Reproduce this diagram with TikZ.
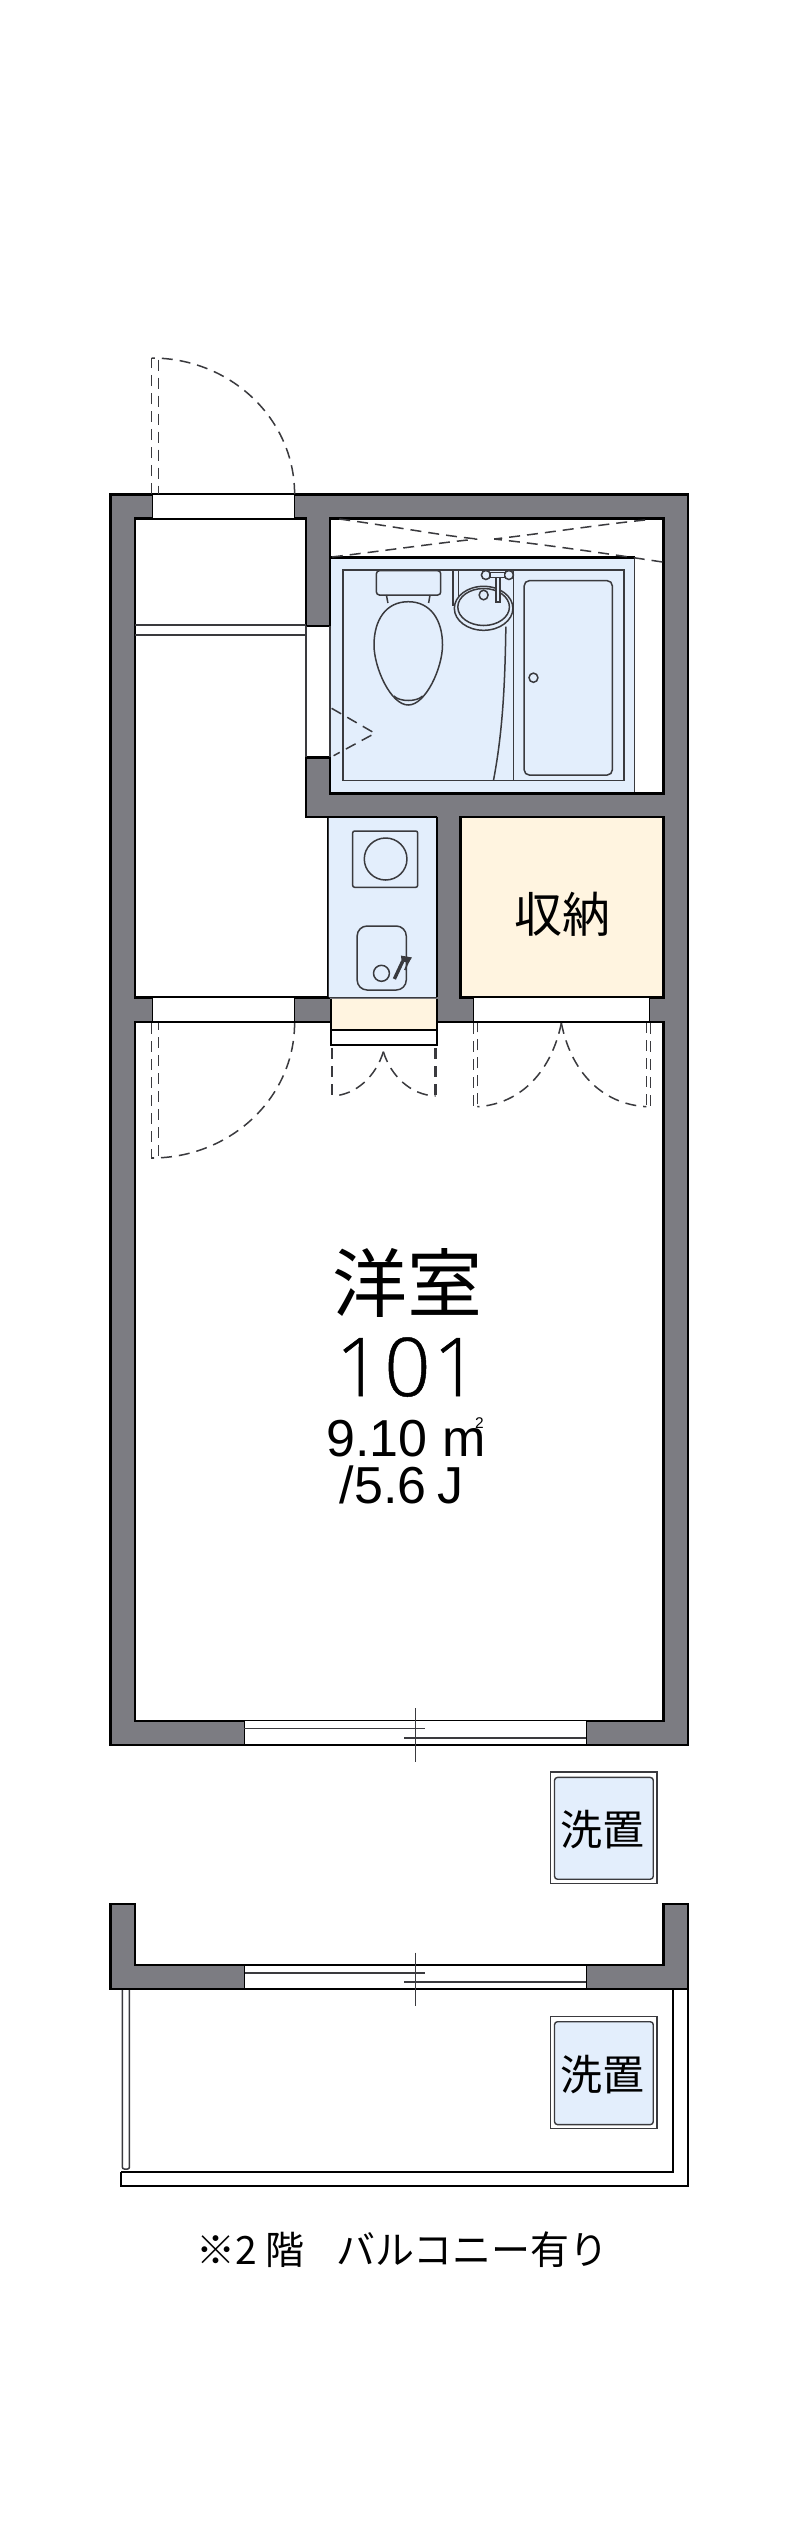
\documentclass[tikz,border=0pt]{standalone}
\usepackage{fontspec}
\setmainfont{Noto Sans CJK JP}
\newfontfamily\numfont[FakeBold=0.6,LetterSpace=3]{Open Sans Light}
\newfontfamily\smallfont{Liberation Sans}
\definecolor{wallc}{HTML}{7C7C82}
\definecolor{bluef}{HTML}{E3EEFC}
\definecolor{creamf}{HTML}{FFF4E0}
\definecolor{linec}{HTML}{3A3A3E}
\tikzset{
  wallline/.style={draw=black,line width=2.4pt,line join=miter},
  thinline/.style={draw=linec,line width=1.2pt},
  fixture/.style={draw=linec,line width=1.5pt},
  swing/.style={draw=linec,line width=1.5pt,dash pattern=on 11pt off 7pt},
  room/.style={wallline,fill=white},
  wash/.style={draw=linec,line width=1.4pt,fill=white},
  washin/.style={draw=linec,line width=1.4pt,fill=bluef,rounded corners=3pt},
  lab/.style={inner sep=0pt,text=black},
}
\begin{document}
\begin{tikzpicture}[x=1pt,y=-1pt]
\useasboundingbox (0,0) rectangle (800,2533);
\fill[white] (0,0) rectangle (800,2533);

\begin{scope}[x=0.9928pt,y=-1pt,xshift=0.72pt]
% main wall block
\filldraw[wallline,fill=wallc] (110.4,494.3) rectangle (692,1744.8);

% entry / corridor
\path[room] (135.5,518.3) -- (307.5,518.3) -- (307.5,625.7) -- (331.4,625.7) -- (331.4,757.3) -- (307.5,757.3) -- (307.5,816.7) -- (330.2,816.7) -- (330.2,997.3) -- (135.5,997.3) -- cycle;
\fill[white] (308.8,627) rectangle (333,756);
\draw[thinline] (307.5,625.7) -- (307.5,757.3);
\draw[thinline] (135.5,625) -- (307.5,625);
\draw[thinline] (135.5,635) -- (307.5,635);

% bath room
\path[room] (331.4,518.3) rectangle (667.7,793.3);
\fill[white] (330,627) rectangle (332.5,756);
\filldraw[fill=bluef,draw=linec,line width=1.2pt] (332.5,557.3) rectangle (638.4,792.2);
\draw[wallline] (331.4,557.3) -- (638.4,557.3);
\draw[wallline] (331.4,518.3) -- (331.4,625.7);
\draw[wallline] (331.4,757.3) -- (331.4,793.3) -- (667.7,793.3);
\draw[thinline] (331.4,625.7) -- (331.4,757.3);
\draw[fixture] (344.9,570) rectangle (627.6,780.7);
% toilet
\draw[fixture,fill=bluef,rounded corners=3pt] (378.4,570.7) rectangle (443.2,595);
\draw[fixture] (388.5,595) -- (390,603);
\draw[fixture] (432.4,595) -- (431,603);
\draw[fixture,fill=bluef] (410.5,601.7) .. controls (388,601.7) and (376,620) .. (376,645) .. controls (376,668) and (393,705) .. (410.5,705) .. controls (428,705) and (445,668) .. (445,645) .. controls (445,620) and (433,601.7) .. (410.5,601.7) -- cycle;
\draw[fixture] (396,696) .. controls (402,702) and (419,702) .. (425,696);
% sink
\draw[fixture] (455.6,570.7) -- (455.6,606);
\draw[fixture] (461,570.7) -- (461,600);
\draw[fixture,fill=bluef] (486.4,608.3) ellipse [x radius=29.5,y radius=22];
\draw[fixture] (486.4,607) ellipse [x radius=26,y radius=18.5];
\draw[fixture] (486.4,595) ellipse [x radius=4.5,y radius=4.8];
\draw[fixture,fill=bluef] (488.7,575) circle [radius=4.5];
\draw[fixture,fill=bluef] (511.9,575) circle [radius=4.5];
\draw[fixture,fill=bluef] (493,572.7) rectangle (507.5,577.5);
\draw[fixture,fill=bluef] (499,577.5) rectangle (503,602);
% shower curtain + partition
\draw[fixture] (516.5,570.7) -- (516.5,780.7);
\draw[fixture] (508.8,626.7) .. controls (508,680) and (506,730) .. (496.4,780);
% tub
\draw[fixture,rounded corners=5pt] (527.3,580.7) rectangle (616,775);
\draw[fixture] (536.6,677.7) ellipse [x radius=4.5,y radius=4.6];
% bath dashed doors
\draw[swing] (341,519) .. controls (400,527) and (440,535) .. (480,539);
\draw[swing] (333.5,557) .. controls (400,549) and (440,543) .. (480,539);
\draw[swing] (649,520) .. controls (600,525) and (550,533) .. (497,539);
\draw[swing] (666.5,562) .. controls (600,552) and (550,545) .. (497,539);
\draw[swing] (333.3,708.3) -- (376.9,733.3) -- (335.3,755.7);

% kitchen
\filldraw[fill=bluef,draw=none] (330.2,816.7) rectangle (439.4,997.3);
\draw[thinline] (330.2,816.7) -- (330.2,997.3);
\draw[thinline] (330.2,997.3) -- (439.4,997.3);
\draw[wallline] (439.4,816.7) -- (439.4,997.3);
\draw[wallline] (307.5,816.7) -- (439.4,816.7);
\draw[fixture,rounded corners=2pt] (354.5,831) rectangle (420,887.3);
\draw[fixture] (387.7,859) ellipse [x radius=21.5,y radius=21];
\draw[fixture,rounded corners=10pt] (359,926) rectangle (408.5,990);
\draw[fixture] (383.5,973.3) circle [radius=8];
\draw[linec,line width=3.4pt] (396.5,979) -- (405,961);
\draw[fixture,fill=linec] (404,956.5) -- (413,958) -- (410.5,962) -- (404.5,960.5) -- cycle;
\draw[fixture] (411,961) -- (407,970);

% storage
\filldraw[wallline,fill=creamf] (463.3,816.7) rectangle (667.7,997.3);

% main room
\path[room] (135.5,1021.7) rectangle (667.7,1720.7);

% openings between rooms
\filldraw[fill=white,draw=black,line width=1.3pt] (153.2,997.3) rectangle (296,1021.7);
\filldraw[fill=white,draw=black,line width=1.3pt] (476,997.3) rectangle (653.4,1021.7);
\filldraw[fill=creamf,draw=none] (332.5,998.5) rectangle (439.4,1030);
\filldraw[fill=white,draw=none] (332.5,1030) rectangle (439.4,1045);
\draw[draw=black,line width=1.4pt] (332.5,998.5) -- (332.5,1045) -- (439.4,1045) -- (439.4,998.5);
\draw[draw=black,line width=1.4pt] (332.5,1030) -- (439.4,1030);

% front door
\filldraw[fill=white,draw=black,line width=1.3pt] (153.2,494.3) rectangle (296,518.3);
\draw[swing] (152,494) -- (152,358.3) -- (159,358.3) -- (159,494);
\draw[swing] (296,494) arc [start angle=0,end angle=-90,x radius=144,y radius=136];
% inner door
\draw[swing] (152,1023) -- (152,1158) -- (159,1158) -- (159,1023);
\draw[swing] (296,1023) arc [start angle=0,end angle=90,x radius=144,y radius=135];
% kitchen doors
\draw[swing,line width=2.2pt] (333.5,1048) -- (333.5,1096.7);
\draw[swing,line width=2.2pt] (438,1048) -- (438,1096.7);
\draw[swing] (385.4,1051.7) .. controls (378,1076) and (358,1095) .. (334,1096);
\draw[swing] (385.4,1051.7) .. controls (393,1076) and (413,1095) .. (438,1096);
% closet doors
\draw[swing] (476,1023) -- (476,1106.7) -- (480,1106.7) -- (480,1023);
\draw[swing] (654.6,1023) -- (654.6,1106.7) -- (650.3,1106.7) -- (650.3,1023);
\draw[swing] (564.7,1023) .. controls (555,1070) and (525,1104) .. (480,1106.7);
\draw[swing] (564.7,1023) .. controls (574,1070) and (604,1104) .. (650.3,1106.7);

% lower window
\filldraw[fill=white,draw=black,line width=1.3pt] (245.4,1720.7) rectangle (589.8,1744.8);
\draw[thinline,line width=1.6pt] (245.4,1728.4) -- (427,1728.4);
\draw[thinline,line width=1.6pt] (406.6,1738) -- (589.8,1738);
\draw[linec,line width=1.4pt] (417.8,1708.3) -- (417.8,1761.9);

% washer 1
\draw[wash] (553.9,1772) rectangle (661,1883.7);
\draw[washin] (557.8,1777.4) rectangle (657.3,1879.2);

% balcony wall
\path[wallline,fill=wallc] (110.4,1903.7) -- (135.5,1903.7) -- (135.5,1965) -- (667.7,1965) -- (667.7,1903.7) -- (692,1903.7) -- (692,1989) -- (110.4,1989) -- cycle;
\filldraw[fill=white,draw=black,line width=1.3pt] (245.8,1965) rectangle (589.8,1989);
\draw[thinline,line width=1.6pt] (245.8,1973) -- (427.5,1973);
\draw[thinline,line width=1.6pt] (406.6,1982) -- (589.8,1982);
\draw[linec,line width=1.4pt] (417.8,1952.7) -- (417.8,2006.3);

% balcony railing
\draw[thinline,line width=1.5pt,rounded corners=2pt] (122.5,1990) -- (122.5,2169) -- (129.7,2169) -- (129.7,1990);
\draw[draw=black,line width=1.6pt] (121.2,2172) -- (677.3,2172) -- (677.3,1990);
\draw[draw=black,line width=1.6pt] (121.2,2172) -- (121.2,2186) -- (692,2186) -- (692,1990);

% washer 2
\draw[wash] (553.9,2016.7) rectangle (661,2128.6);
\draw[washin] (557.8,2021.7) rectangle (657.3,2124.6);
\end{scope}

% labels
\node[lab,font=\fontsize{48}{48}\selectfont] (shuno) at (562.3,914) {収納};
\node[lab,font=\fontsize{75}{75}\selectfont] (room) at (407,1282.7) {洋室};
\node[lab,font=\numfont\fontsize{81}{81}\selectfont,anchor=base] (num) at (407.5,1396) {101};
\node[lab,font=\smallfont\fontsize{52}{52}\selectfont,anchor=base west] (area) at (326,1456.7) {9.10};
\node[lab,font=\smallfont\fontsize{52}{52}\selectfont,anchor=base east] (unit) at (486,1456.7) {m};
\node[lab,font=\smallfont\fontsize{15.5}{15.5}\selectfont,anchor=base] (sq) at (479.5,1428) {2};
\node[lab,font=\smallfont\fontsize{52}{52}\selectfont,anchor=base west] (jo) at (339.5,1503.3) {/5.6};
\node[lab,font=\smallfont\fontsize{52}{52}\selectfont,anchor=base east] (jou) at (464,1503.3) {J};
\node[lab,font=\fontsize{42}{42}\selectfont] (w1) at (602.5,1830) {洗置};
\node[lab,font=\fontsize{42}{42}\selectfont] (w2) at (602.5,2075) {洗置};
\node[lab,font=\fontsize{39}{39}\selectfont,anchor=west] (capa) at (196,2249.5) {※2 階};
\node[lab,font=\fontsize{39}{39}\selectfont,anchor=east] (capb) at (608.5,2249.5) {バルコニー有り};
\end{tikzpicture}
\end{document}
